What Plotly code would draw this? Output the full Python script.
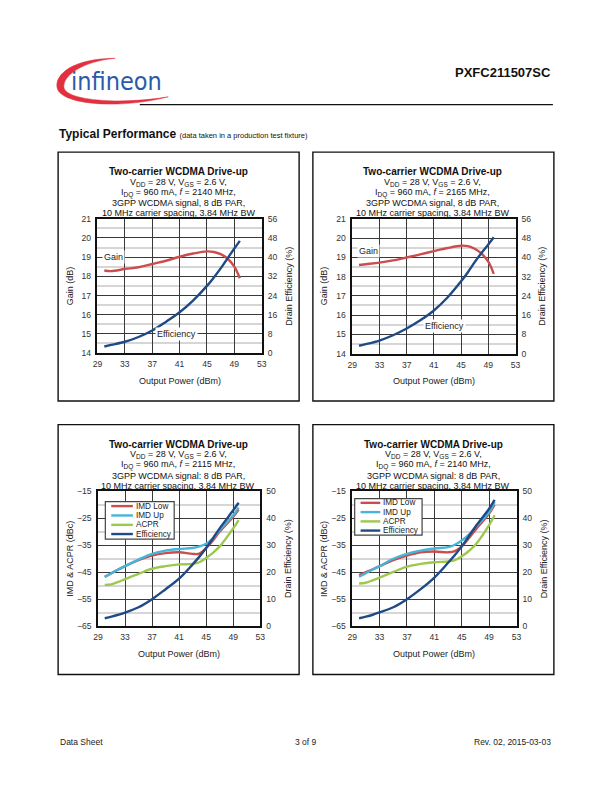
import plotly.graph_objects as go

W, H = 612, 792
def px(x): return x / W
def py(y): return 1 - y / H

FONT = "Liberation Sans, Arial, sans-serif"

# ---------------- data ----------------
x_ticks = [29, 33, 37, 41, 45, 49, 53]

c1_x = [30, 31, 33, 35, 37, 39, 41, 43, 45, 46, 47, 48, 49, 49.8]
c1_gain = [18.30, 18.27, 18.38, 18.47, 18.64, 18.81, 19.02, 19.19, 19.30, 19.27, 19.16, 18.93, 18.50, 17.90]
c1_eff = [2.75, 3.4, 4.7, 6.7, 9.4, 13.0, 17.0, 22.0, 28.0, 31.5, 35.3, 39.5, 43.6, 46.8]

c2_x = [30, 31, 33, 35, 37, 39, 41, 43, 45, 46, 47, 48, 49, 49.8]
c2_gain = [18.60, 18.64, 18.72, 18.84, 18.99, 19.15, 19.32, 19.48, 19.60, 19.58, 19.44, 19.19, 18.77, 18.14]
c2_eff = [3.25, 3.9, 5.4, 7.6, 10.4, 13.8, 17.9, 23.3, 30.0, 33.8, 38.0, 41.8, 45.3, 48.3]

c3_x = [30, 31, 32, 33, 35, 37, 39, 41, 43, 44, 45, 46, 47, 49, 49.8]
c3_imd_low = [-46.7, -45.4, -44.0, -42.75, -40.5, -38.8, -37.9, -37.6, -38.2, -38.1, -36.0, -33.2, -29.9, -24.4, -21.7]
c3_imd_up = [-46.8, -45.4, -44.0, -42.75, -40.3, -38.2, -37.0, -36.4, -36.0, -35.4, -34.4, -32.4, -29.3, -23.8, -21.0]
c3_acpr = [-49.7, -49.5, -48.6, -47.6, -45.6, -43.7, -42.75, -42.1, -41.9, -41.3, -39.7, -37.8, -35.4, -28.7, -25.6]
c3_eff = [2.9, 3.5, 4.2, 5.0, 7.0, 10.0, 13.7, 17.6, 22.9, 25.8, 29.0, 32.6, 36.3, 43.0, 45.8]

c4_x = [30, 31, 32, 33, 35, 37, 39, 41, 43, 44, 45, 46, 47, 49, 49.8]
c4_imd_low = [-46.05, -45.0, -43.9, -42.75, -40.5, -38.8, -37.6, -37.3, -37.6, -37.2, -35.4, -32.5, -29.3, -23.2, -19.9]
c4_imd_up = [-46.7, -45.4, -44.0, -42.75, -40.0, -38.2, -37.0, -36.2, -35.7, -34.8, -33.2, -31.1, -28.3, -22.6, -18.9]
c4_acpr = [-49.2, -48.9, -48.0, -47.0, -44.9, -42.9, -41.9, -41.3, -41.0, -40.5, -39.1, -37.2, -34.8, -27.5, -23.8]
c4_eff = [2.9, 3.5, 4.2, 5.1, 7.0, 10.0, 13.7, 18.0, 23.5, 26.4, 29.6, 33.2, 36.9, 43.6, 46.9]

legend_names = ["IMD Low", "IMD Up", "ACPR", "Efficiency"]

# ---------------- styles ----------------
RED = "#cc4d4d"
CYAN = "#45b5d8"
GREEN = "#9cc84e"
NAVY = "#1f4a86"
LW = 2.4

fig = go.Figure()

def add(x, y, xa, ya, color):
    fig.add_trace(go.Scatter(x=x, y=y, xaxis=xa, yaxis=ya, mode="lines",
                             line=dict(color=color, width=LW, shape="spline", smoothing=1.0),
                             showlegend=False, hoverinfo="skip"))

add(c1_x, c1_gain, "x", "y", RED)
add(c1_x, c1_eff, "x", "y2", NAVY)
add(c2_x, c2_gain, "x2", "y3", RED)
add(c2_x, c2_eff, "x2", "y4", NAVY)
add(c3_x, c3_imd_low, "x3", "y5", RED)
add(c3_x, c3_imd_up, "x3", "y5", CYAN)
add(c3_x, c3_acpr, "x3", "y5", GREEN)
add(c3_x, c3_eff, "x3", "y6", NAVY)
add(c4_x, c4_imd_low, "x4", "y7", RED)
add(c4_x, c4_imd_up, "x4", "y7", CYAN)
add(c4_x, c4_acpr, "x4", "y7", GREEN)
add(c4_x, c4_eff, "x4", "y8", NAVY)

# ---------------- axes ----------------
charts = [
    dict(l=94, r=261, t=216.5, b=352.5, box=(54, 299, 149, 401), kind="gain",
         freq="2140 MHz", sep=","),
    dict(l=353, r=519, t=216.5, b=353, box=(313, 558, 149, 401), kind="gain",
         freq="2165 MHz", sep=","),
    dict(l=94.5, r=259.5, t=492.7, b=629, box=(54, 299, 425, 678), kind="imd",
         freq="2115 MHz", sep=":"),
    dict(l=353, r=520, t=492.7, b=629, box=(313, 558, 425, 678), kind="imd",
         freq="2140 MHz", sep=":"),
]

tickfont = dict(family=FONT, size=8.6, color="#333333")
layout = dict(width=W, height=H, margin=dict(l=0, r=0, t=0, b=0),
              paper_bgcolor="white", plot_bgcolor="white", showlegend=False)

for i, c in enumerate(charts):
    n = i + 1
    xa = "xaxis" if n == 1 else f"xaxis{n}"
    yl_n = 2 * i + 1
    yr_n = 2 * i + 2
    yl = "yaxis" if yl_n == 1 else f"yaxis{yl_n}"
    yr = f"yaxis{yr_n}"
    xref = "x" if n == 1 else f"x{n}"
    ylref = "y" if yl_n == 1 else f"y{yl_n}"
    dom_x = [px(c["l"]), px(c["r"])]
    dom_y = [py(c["b"]), py(c["t"])]
    layout[xa] = dict(domain=dom_x, anchor=ylref, range=[29, 53], tickvals=x_ticks,
                      showgrid=True, gridcolor="#3a3a3a", gridwidth=1,
                      showline=True, linecolor="#111111", linewidth=1.5, mirror=True,
                      zeroline=False, ticks="", tickfont=tickfont, fixedrange=True,
                      ticklabelstandoff=2)
    if c["kind"] == "gain":
        lrange, ldt, lminor = [14, 21], 1, 0.5
        rrange, rdt = [0, 56], 8
    else:
        lrange, ldt, lminor = [-65, -15], 10, 5
        rrange, rdt = [0, 50], 10
    layout[yl] = dict(domain=dom_y, anchor=xref, range=lrange, dtick=ldt, tick0=lrange[0],
                      showgrid=True, gridcolor="#3a3a3a", gridwidth=1,
                      minor=dict(dtick=lminor, tick0=lrange[0], showgrid=True,
                                 gridcolor="#d6d6d6", gridwidth=1.6),
                      showline=True, linecolor="#111111", linewidth=1.5, mirror=True,
                      zeroline=False, ticks="", tickfont=tickfont, fixedrange=True,
                      ticklabelstandoff=3)
    layout[yr] = dict(overlaying=ylref, side="right", anchor=xref, range=rrange, dtick=rdt,
                      tick0=0, showgrid=False, zeroline=False, showline=False, ticks="",
                      tickfont=tickfont, fixedrange=True, ticklabelstandoff=5)

fig.update_layout(**layout)

ann = []
shapes = []

def S(text, size, extra=""):
    return f"<span style='font-size:{size}px;{extra}'>{text}</span>"

def sub(text, size=6.5):
    return S(text, size, "baseline-shift:-25%")

tfont = dict(family=FONT, size=9, color="#222222")

for i, c in enumerate(charts):
    bl, br, bt, bb = c["box"]
    shapes.append(dict(type="rect", xref="paper", yref="paper",
                       x0=px(bl), x1=px(br), y0=py(bb), y1=py(bt),
                       line=dict(color="#111111", width=1.4), fillcolor="rgba(0,0,0,0)"))
    cx = (c["l"] + c["r"]) / 2 - 1
    lines = [
        S("Two-carrier WCDMA Drive-up", 10, "font-weight:bold"),
        "V" + sub("DD") + " = 28 V, V" + sub("GS") + " = 2.6 V,",
        "I" + sub("DQ") + " = 960 mA, " + S("f", 9, "font-style:italic") + f" = {c['freq']},",
        f"3GPP WCDMA signal{c['sep']} 8 dB PAR,",
        "10 MHz carrier spacing, 3.84 MHz BW",
    ]
    offs = [20, 30.6, 41.2, 51.6, 62]
    for j, (t, o) in enumerate(zip(lines, offs)):
        ann.append(dict(xref="paper", yref="paper", x=px(cx), y=py(bt + o),
                        text=t, showarrow=False, xanchor="center", yanchor="middle",
                        font=dict(family=FONT, size=10 if j == 0 else 9, color="#111111")))
    ann.append(dict(xref="paper", yref="paper", x=px((c["l"] + c["r"]) / 2), y=py(c["b"] + 28),
                    text="Output Power (dBm)", showarrow=False, xanchor="center", yanchor="middle",
                    font=tfont))
    ltxt = "Gain (dB)" if c["kind"] == "gain" else "IMD &amp; ACPR (dBc)"
    ann.append(dict(xref="paper", yref="paper", x=px(c["l"] - 28.5), y=py((c["t"] + c["b"]) / 2),
                    text=ltxt, showarrow=False, textangle=-90, xanchor="center", yanchor="middle",
                    font=tfont))
    ann.append(dict(xref="paper", yref="paper", x=px(c["r"] + 27.5), y=py((c["t"] + c["b"]) / 2),
                    text="Drain Efficiency (%)", showarrow=False, textangle=-90,
                    xanchor="center", yanchor="middle", font=tfont))

lab_font = dict(family=FONT, size=9, color="#222222")
ann.append(dict(xref="x", yref="y", x=31.3, y=19.0, text="Gain", showarrow=False,
                bgcolor="white", borderpad=1, font=lab_font))
ann.append(dict(xref="x", yref="y2", x=40.6, y=8.0, text="Efficiency", showarrow=False,
                bgcolor="white", borderpad=1, font=lab_font))
ann.append(dict(xref="x2", yref="y3", x=31.4, y=19.3, text="Gain", showarrow=False,
                bgcolor="white", borderpad=1, font=lab_font))
ann.append(dict(xref="x2", yref="y4", x=42.6, y=11.5, text="Efficiency", showarrow=False,
                bgcolor="white", borderpad=1, font=lab_font))

leg_colors = [RED, CYAN, GREEN, NAVY]
legends = [
    dict(box=(102, 172, 503, 541), ys=[507.5, 517, 526.5, 535.8], lx=(108, 130), tx=131),
    dict(box=(355.5, 424, 500, 537), ys=[504.2, 513.6, 523, 532.3], lx=(361.5, 381.5), tx=382),
]
for lg in legends:
    l, r, t, b = lg["box"]
    shapes.append(dict(type="rect", xref="paper", yref="paper", x0=px(l), x1=px(r),
                       y0=py(b), y1=py(t), line=dict(color="#444444", width=1.2),
                       fillcolor="white", layer="above"))
    for name, col, yy in zip(legend_names, leg_colors, lg["ys"]):
        shapes.append(dict(type="line", xref="paper", yref="paper", x0=px(lg["lx"][0]),
                           x1=px(lg["lx"][1]), y0=py(yy), y1=py(yy),
                           line=dict(color=col, width=2.4), layer="above"))
        ann.append(dict(xref="paper", yref="paper", x=px(lg["tx"]), y=py(yy), text=name,
                        showarrow=False, xanchor="left", yanchor="middle",
                        font=dict(family=FONT, size=8.2, color="#222222")))

# ---------------- page header / footer ----------------
def P(x, y):
    return f"{px(x):.5f},{py(y):.5f}"
swoosh = ("M " + P(112, 54) + " C " + P(70, 54) + " " + P(50, 70) + " " + P(53, 84) +
          " C " + P(57, 101) + " " + P(115, 106) + " " + P(166, 93) +
          " C " + P(118, 101) + " " + P(63, 97) + " " + P(60, 84) +
          " C " + P(58, 71) + " " + P(80, 57) + " " + P(112, 54) + " Z")
shapes.append(dict(type="path", xref="paper", yref="paper", path=swoosh,
                   fillcolor="#e2303f", line=dict(color="#e2303f", width=0.5)))
ann.append(dict(xref="paper", yref="paper", x=px(65), y=py(77), text="infineon",
                showarrow=False, xanchor="left", yanchor="middle",
                font=dict(family="Liberation Sans Narrow, DejaVu Sans Condensed, Liberation Sans",
                          size=25, color="#2b5ba8")))
shapes.append(dict(type="line", xref="paper", yref="paper", x0=px(137), x1=px(557),
                   y0=py(101), y1=py(101), line=dict(color="#111111", width=1.2)))
ann.append(dict(xref="paper", yref="paper", x=px(557), y=py(68),
                text=S("PXFC211507SC", 13, "font-weight:bold"),
                showarrow=False, xanchor="right", yanchor="middle",
                font=dict(family=FONT, size=13, color="#111111")))
ann.append(dict(xref="paper", yref="paper", x=px(53), y=py(131),
                text=S("Typical Performance", 12, "font-weight:bold") + " " +
                     S("(data taken in a production test fixture)", 7.5),
                showarrow=False, xanchor="left", yanchor="middle",
                font=dict(family=FONT, size=12, color="#111111")))
foot = dict(family=FONT, size=8.5, color="#222222")
ann.append(dict(xref="paper", yref="paper", x=px(54), y=py(746), text="Data Sheet",
                showarrow=False, xanchor="left", yanchor="middle", font=foot))
ann.append(dict(xref="paper", yref="paper", x=px(306), y=py(746), text="3 of 9",
                showarrow=False, xanchor="center", yanchor="middle", font=foot))
ann.append(dict(xref="paper", yref="paper", x=px(557), y=py(746), text="Rev. 02, 2015-03-03",
                showarrow=False, xanchor="right", yanchor="middle", font=foot))

fig.update_layout(annotations=ann, shapes=shapes)
fig.write_html("out.html", config={"displayModeBar": False},
               post_script="document.body.style.margin='0px';document.documentElement.style.overflow='hidden';")
